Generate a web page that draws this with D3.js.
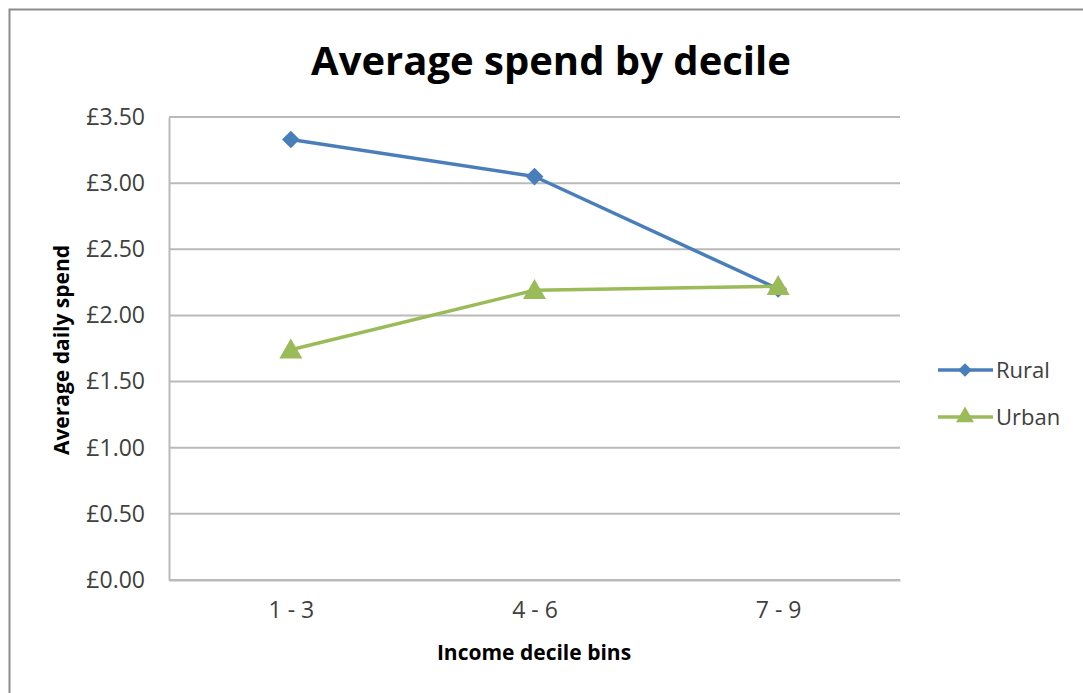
<!DOCTYPE html>
<html>
<head>
<meta charset="utf-8">
<script src="https://cdn.jsdelivr.net/npm/d3@7"></script>
<style>
  body { margin: 0; background: #fff; }
  svg { display: block; }
</style>
</head>
<body>
<div id="wrapper"></div>
<script>
// data
const categories = ["1 - 3", "4 - 6", "7 - 9"]
const rural = [3.33, 3.05, 2.20]
const urban = [1.74, 2.19, 2.22]
const yTicks = [0, 0.5, 1, 1.5, 2, 2.5, 3, 3.5]
const seriesNames = ["Rural", "Urban"]

const font = "Open Sans, sans-serif"

let dimensions = {
    width: 1083,
    height: 693,
    margins: { top: 117, right: 183, bottom: 113, left: 169 },
}
dimensions.boundedWidth = dimensions.width - dimensions.margins.left - dimensions.margins.right
dimensions.boundedHeight = dimensions.height - dimensions.margins.top - dimensions.margins.bottom

const wrapper = d3.select("#wrapper")
    .append("svg")
    .attr("width", dimensions.width)
    .attr("height", dimensions.height)

// outer chart frame
wrapper.append("rect")
    .attr("x", 9.5).attr("y", 9.5)
    .attr("width", dimensions.width + 20).attr("height", dimensions.height + 20)
    .attr("fill", "#fff")
    .attr("stroke", "#8c8c8c")
    .attr("stroke-width", 2)

wrapper.append("text")
    .attr("x", 551).attr("y", 75)
    .attr("text-anchor", "middle")
    .attr("font-family", font)
    .attr("font-weight", "bold")
    .attr("font-size", 40)
    .attr("fill", "#000")
    .text("Average spend by decile")

const bounds = wrapper.append("g")
    .attr("transform", `translate(${dimensions.margins.left},${dimensions.margins.top})`)

// scales
const xScale = d3.scalePoint()
    .domain(categories)
    .range([0, dimensions.boundedWidth])
    .padding(0.5)

const yScale = d3.scaleLinear()
    .domain([0, 3.5])
    .range([dimensions.boundedHeight, 0])

// gridlines
bounds.append("g")
    .selectAll("line")
    .data(yTicks)
    .join("line")
    .attr("x1", 0).attr("x2", dimensions.boundedWidth)
    .attr("y1", d => yScale(d)).attr("y2", d => yScale(d))
    .attr("stroke", "#bababa")
    .attr("stroke-width", 2)

// axes
const yAxis = bounds.append("g")
    .call(d3.axisLeft(yScale).tickValues(yTicks).tickSize(0).tickPadding(24)
        .tickFormat(d => "£" + d3.format(".2f")(d)))
yAxis.select(".domain").attr("stroke", "#bababa").attr("stroke-width", 2)
yAxis.selectAll("text")
    .attr("font-family", font).attr("font-size", 23).attr("fill", "#404040")

const xAxis = bounds.append("g")
    .attr("transform", `translate(0,${dimensions.boundedHeight})`)
    .call(d3.axisBottom(xScale).tickSize(0).tickPadding(22))
xAxis.select(".domain").attr("stroke", "#bababa").attr("stroke-width", 2)
xAxis.selectAll("text")
    .attr("font-family", font).attr("font-size", 23).attr("fill", "#404040")

// axis titles
wrapper.append("text")
    .attr("transform", "translate(69,350) rotate(-90)")
    .attr("text-anchor", "middle")
    .attr("font-family", font).attr("font-weight", "bold").attr("font-size", 21)
    .text("Average daily spend")

wrapper.append("text")
    .attr("x", 534).attr("y", 660)
    .attr("text-anchor", "middle")
    .attr("font-family", font).attr("font-weight", "bold").attr("font-size", 21)
    .text("Income decile bins")

// lines
const colors = ["#4a7ebb", "#9bbb59"]
const seriesData = [rural, urban]
const lineGenerator = d3.line()
    .x((d, i) => xScale(categories[i]))
    .y(d => yScale(d))

const diamond = d3.symbol().type(d3.symbolDiamond2).size(200)
const triangle = d3.symbol().type(d3.symbolTriangle).size(230)
const symbols = [diamond, triangle]

seriesData.forEach((values, s) => {
    bounds.append("path")
        .attr("d", lineGenerator(values))
        .attr("fill", "none")
        .attr("stroke", colors[s])
        .attr("stroke-width", 3.5)
        .attr("stroke-linejoin", "round")
    bounds.append("g")
        .selectAll("path")
        .data(values)
        .join("path")
        .attr("transform", (d, i) => `translate(${xScale(categories[i])},${yScale(d) + (s === 1 ? 2 : 0)})`)
        .attr("d", symbols[s]())
        .attr("fill", colors[s])
})

// legend
const legend = wrapper.append("g")
seriesNames.forEach((name, s) => {
    const y = 370 + s * 47
    legend.append("line")
        .attr("x1", 938).attr("x2", 993)
        .attr("y1", y).attr("y2", y)
        .attr("stroke", colors[s]).attr("stroke-width", 3.5)
    legend.append("path")
        .attr("transform", `translate(965,${y})`)
        .attr("d", d3.symbol().type(s === 0 ? d3.symbolDiamond2 : d3.symbolTriangle).size(s === 0 ? 120 : 140)())
        .attr("fill", colors[s])
    legend.append("text")
        .attr("x", 996).attr("y", y + 8)
        .attr("font-family", font).attr("font-size", 22).attr("fill", "#404040")
        .text(name)
})
</script>
</body>
</html>
